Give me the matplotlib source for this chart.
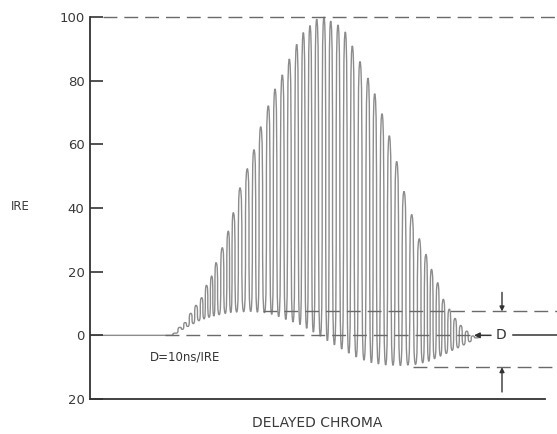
#!/usr/bin/env python3

import matplotlib
matplotlib.use("Agg")
import matplotlib.pyplot as plt
from matplotlib.path import Path
from matplotlib.patches import PathPatch

# IRE levels of the chroma cycle tops (t in arbitrary time units)
peak_t = [90, 95, 100.7, 106, 111.7, 116.5, 121.7, 126, 132.3, 138.3, 143.3, 150,
          157.3, 164, 170.7, 178.3, 185, 192.3, 199.3, 206.7, 213.3, 220, 226.7, 234,
          240.7, 248, 255.3, 262.3, 270, 278, 284.7, 292, 299.3, 306.7, 314, 321.7,
          329.3, 336, 341.5, 347.7, 353.3, 359.3, 365, 370.7, 376.7, 382.7]
peak_ire = [2.5, 4.0, 6.9, 9.4, 11.8, 15.7, 18.6, 22.8, 27.5, 32.7, 38.5, 46.3,
            52.3, 58.3, 65.5, 72.1, 77.4, 81.8, 86.8, 91.4, 95.1, 97.3, 99.3, 100.0,
            98.7, 97.5, 95.3, 90.9, 86.0, 80.8, 75.9, 69.6, 62.7, 54.6, 45.2, 37.9,
            30.3, 25.4, 20.7, 16.5, 11.3, 8.2, 5.3, 3.1, 1.3, -0.2]

# bottoms of the chroma cycles (lower envelope)
trough_t = [86, 92.5, 97.9, 103.4, 108.9, 114.1, 119.1, 123.9, 129.2, 135.3, 140.8,
            146.7, 153.7, 160.7, 167.4, 174.5, 181.7, 188.7, 195.8, 203, 210, 216.7,
            223.4, 230.4, 237.4, 244.4, 251.7, 258.8, 266.2, 274, 281.4, 288.4, 295.7,
            303, 310.4, 317.9, 325.5, 332.7, 338.8, 344.6, 350.5, 356.3, 362.2, 367.9,
            373.7, 379.7, 386]
trough_ire = [0.7, 1.9, 2.8, 3.7, 4.6, 5.2, 5.7, 6.1, 6.5, 6.9, 7.2, 7.35, 7.45, 7.5,
              7.3, 7.1, 6.6, 5.9, 5.0, 4.2, 3.4, 2.2, 1.0, -0.3, -1.7, -3.0, -4.3,
              -5.6, -6.8, -7.8, -8.6, -9.0, -9.3, -9.4, -9.5, -9.3, -9.1, -8.6, -8.1,
              -7.3, -6.5, -5.7, -4.7, -3.9, -3.0, -2.0, -0.8]

ref_upper = 7.5     # dashed reference, max of lower envelope
ref_lower = -10.0   # dashed reference, min of lower envelope
ticks = [-20, 0, 20, 40, 60, 80, 100]
tick_labels = ["20", "0", "20", "40", "60", "80", "100"]

INK = "#333333"
TRACE = "#8c8c8c"
DASH = "#6a6a6a"

fig = plt.figure(figsize=(5.57, 4.34), dpi=100)
ax = fig.add_axes([90 / 557, 35 / 434, 467 / 557, 382 / 434])
ax.set_xlim(0, 467)
ax.set_ylim(-20, 100)

# build the trace: flat, then trough/peak alternation, then flat again
pts = [(0, 0), (80, 0)]
for i in range(len(trough_t)):
    pts.append((trough_t[i], trough_ire[i]))
    if i < len(peak_t):
        pts.append((peak_t[i], peak_ire[i]))
pts.append((392, 0))

# rounded square-wave strokes so every cycle reads as a thin hairpin loop
verts = [pts[0], pts[1]]
codes = [Path.MOVETO, Path.LINETO]
for (x0, y0), (x1, y1) in zip(pts[1:-1], pts[2:]):
    verts += [(x1, y0), (x0, y1), (x1, y1)]
    codes += [Path.CURVE4] * 3
ax.add_patch(PathPatch(Path(verts, codes), fill=False, edgecolor=TRACE, lw=1.0,
                       clip_on=False))

# dashed reference lines
dash_kw = dict(color=DASH, lw=1.0, dashes=(10, 5), clip_on=False)
ax.plot([13, 467], [100, 100], **dash_kw)
ax.plot([75, 380], [0, 0], **dash_kw)
ax.plot([173, 467], [ref_upper, ref_upper], **dash_kw)
ax.plot([323, 467], [ref_lower, ref_lower], **dash_kw)

# baseline at the bottom
ax.plot([0, 455], [-20, -20], color=INK, lw=1.3, clip_on=False)

# D marker on the zero line
ax.annotate("", xy=(384, 0), xytext=(401, 0),
            arrowprops=dict(arrowstyle="-|>", color=INK, lw=1.1,
                            mutation_scale=8, shrinkA=0, shrinkB=0))
ax.plot([423, 467], [0, 0], color=INK, lw=1.1, clip_on=False)
ax.text(411, 0, "D", ha="center", va="center", fontsize=10, color=INK)

arrow_kw = dict(arrowstyle="-|>", color=INK, lw=1.0, mutation_scale=7,
                shrinkA=0, shrinkB=0)
ax.annotate("", xy=(412, ref_upper), xytext=(412, 13.5), arrowprops=arrow_kw)
ax.annotate("", xy=(412, ref_lower), xytext=(412, -17.8), arrowprops=arrow_kw)

ax.text(60, -6.8, "D=10ns/IRE", ha="left", va="center", fontsize=8.5, color=INK)

# axis styling
for side in ["top", "right", "bottom"]:
    ax.spines[side].set_visible(False)
ax.spines["left"].set_color(INK)
ax.spines["left"].set_linewidth(1.3)
ax.set_xticks([])
ax.set_yticks(ticks)
ax.set_yticklabels(tick_labels)
ax.tick_params(axis="y", direction="in", length=9.5, width=1.2, color=INK,
               labelsize=9.5, labelcolor="#3a3a3a", pad=4)
ax.patch.set_alpha(0)

fig.text(20 / 557, 1 - 206 / 434, "IRE", ha="center", va="center",
         fontsize=8.5, color="#3a3a3a")
fig.text(317 / 557, 1 - 423 / 434, "DELAYED CHROMA", ha="center", va="center",
         fontsize=10, color="#3a3a3a")

fig.savefig("out.png", dpi=100)
